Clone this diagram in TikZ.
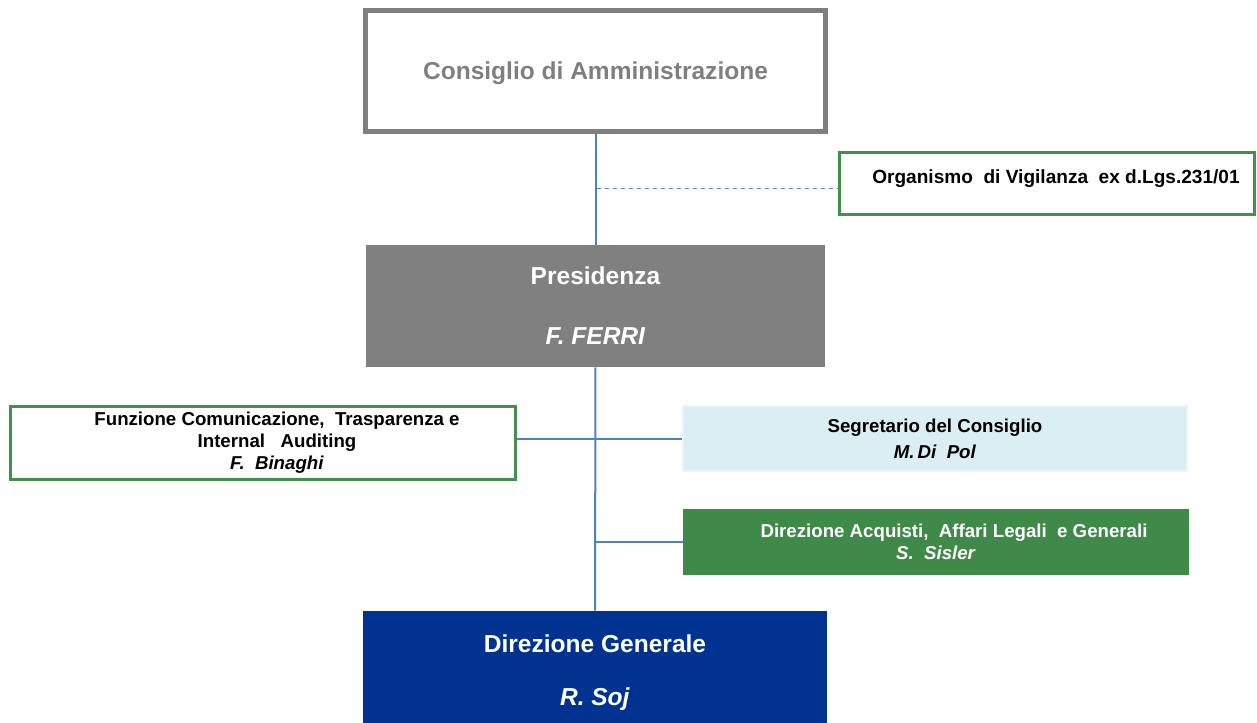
\documentclass[tikz,border=0pt]{standalone}
\usepackage{fontspec}
\setmainfont{Liberation Sans}

\definecolor{cdagray}{HTML}{7F7F7F}
\definecolor{presgray}{HTML}{808080}
\definecolor{frame}{HTML}{43904D}
\definecolor{acqgreen}{HTML}{3F8949}
\definecolor{segblue}{HTML}{DBEEF4}
\definecolor{dgblue}{HTML}{00338F}
\definecolor{link}{HTML}{4F81BD}

\tikzset{
    box/.style={rectangle, inner sep=0pt, align=center},
    big/.style={font=\fontsize{18.4}{45}\selectfont\bfseries},
    small/.style={font=\fontsize{14}{16.5}\selectfont\bfseries},
    linkline/.style={draw=link, line width=1.5pt},
}

\begin{document}
\begin{tikzpicture}[x=0.75pt, y=-0.75pt]
    \useasboundingbox (0,0) rectangle (1257,722);

    % top level
    \node[box, big, draw=cdagray, line width=3.75pt, text=cdagray, text depth=0pt, minimum width=460*0.75pt, minimum height=121*0.75pt] (cda) at (595.5,71) {Consiglio di Amministrazione};
    \node[box, draw=frame, line width=2.25pt, font=\fontsize{14.3}{16}\selectfont\bfseries, text depth=10pt, minimum width=415*0.75pt, minimum height=62*0.75pt] (odv) at (1047,183.5) {\hspace*{13.5pt}Organismo\ \ di Vigilanza\ \ ex d.Lgs.231/01};
    \node[box, big, fill=presgray, text=white, minimum width=459*0.75pt, minimum height=122*0.75pt] (pres) at (595.5,306) {Presidenza\\\textit{F. FERRI}};

    % staff
    \node[box, small, draw=frame, line width=2.25pt, minimum width=505*0.75pt, minimum height=73*0.75pt] (funz) at (263,443) {\hspace*{21pt}Funzione Comunicazione,\ \ Trasparenza e\\\hspace*{21pt}Internal\ \ \ Auditing\\\hspace*{21pt}\textit{F.\ \ Binaghi}};
    \node[box, small, fill=segblue, draw=segblue!60!white, line width=1.5pt, font=\fontsize{14}{19.5}\selectfont\bfseries, minimum width=504*0.75pt, minimum height=65*0.75pt] (segr) at (935,438.5) {Segretario del Consiglio\\\textit{M.\,Di\ \ Pol}};
    \node[box, small, fill=acqgreen, text=white, minimum width=506*0.75pt, minimum height=66*0.75pt] (acq) at (936,542) {\hspace*{27pt}Direzione Acquisti,\ \ Affari Legali\ \ e Generali\\\textit{S.\ \ Sisler}};

    % bottom
    \node[box, font=\fontsize{18.4}{39.75}\selectfont\bfseries, fill=dgblue, text=white, text depth=0pt, minimum width=464*0.75pt, minimum height=119*0.75pt] (dg) at (595,670.5) {Direzione Generale\\\textit{R. Soj}};

    \coordinate (vig) at (597,188);

    \draw[linkline] (cda) -- (pres);
    \draw[draw=link, line width=0.75pt, dashed] (vig) -- (vig -| odv.west);
    \draw[linkline] (pres) -- (dg);
    \draw[linkline] (funz.east |- segr.west) -- (segr.west);
    \draw[linkline] (acq.west) -- (acq.west -| pres.south);
\end{tikzpicture}
\end{document}
